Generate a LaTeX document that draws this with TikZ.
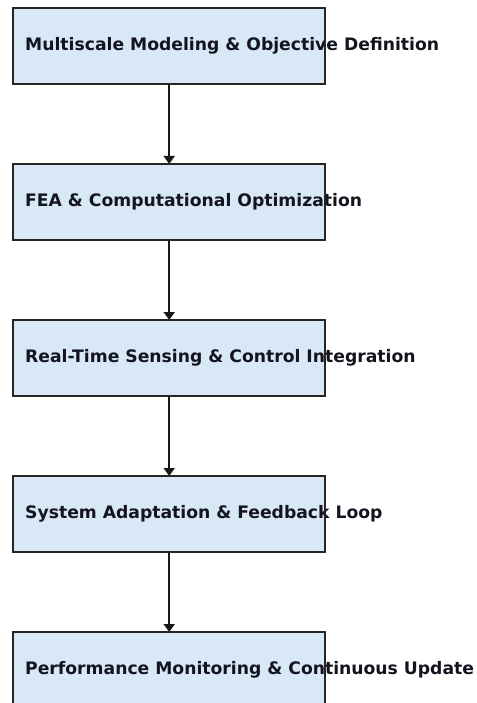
\documentclass[tikz,border=0pt]{standalone}
\usepackage{fontspec}
\setmainfont{DejaVu Sans}
\usetikzlibrary{arrows.meta}
\definecolor{boxfill}{HTML}{D8E8F6}
\definecolor{txt}{HTML}{141420}
\tikzset{
  boxbg/.style={rectangle, fill=boxfill, draw=none, minimum width=312pt, minimum height=76pt, inner sep=0pt, anchor=north west},
  boxline/.style={draw=black!85, line width=2pt},
  lbl/.style={anchor=west, inner sep=0pt, text=txt, font=\bfseries\fontsize{17.2}{19}\selectfont},
  conn/.style={draw=black!90, line width=1.8pt, -{Triangle[width=11pt,length=8pt]}}
}
\begin{document}
\begin{tikzpicture}[x=1pt,y=-1pt]
\useasboundingbox (0,0) rectangle (476,703);
\begin{scope}
\clip (0,0) rectangle (476,703);
\node[boxbg] (b1) at (13,8) {};
\node[boxbg] (b2) at (13,164) {};
\node[boxbg] (b3) at (13,320) {};
\node[boxbg] (b4) at (13,476) {};
\node[boxbg] (b5) at (13,632) {};
\node[lbl] (t1) at (25,45.5) {Multiscale Modeling \& Objective Definition};
\node[lbl] (t2) at (25,201.5) {FEA \& Computational Optimization};
\node[lbl] (t3) at (25,357.5) {Real-Time Sensing \& Control Integration};
\node[lbl] (t4) at (25,513.5) {System Adaptation \& Feedback Loop};
\node[lbl] (t5) at (25,669.5) {Performance Monitoring \& Continuous Update};
\foreach \b in {b1,b2,b3,b4,b5} {
  \draw[boxline] (\b.north west) rectangle (\b.south east);
}
\draw[conn] (b1.south) -- (b2.north);
\draw[conn] (b2.south) -- (b3.north);
\draw[conn] (b3.south) -- (b4.north);
\draw[conn] (b4.south) -- (b5.north);
\end{scope}
\end{tikzpicture}
\end{document}
